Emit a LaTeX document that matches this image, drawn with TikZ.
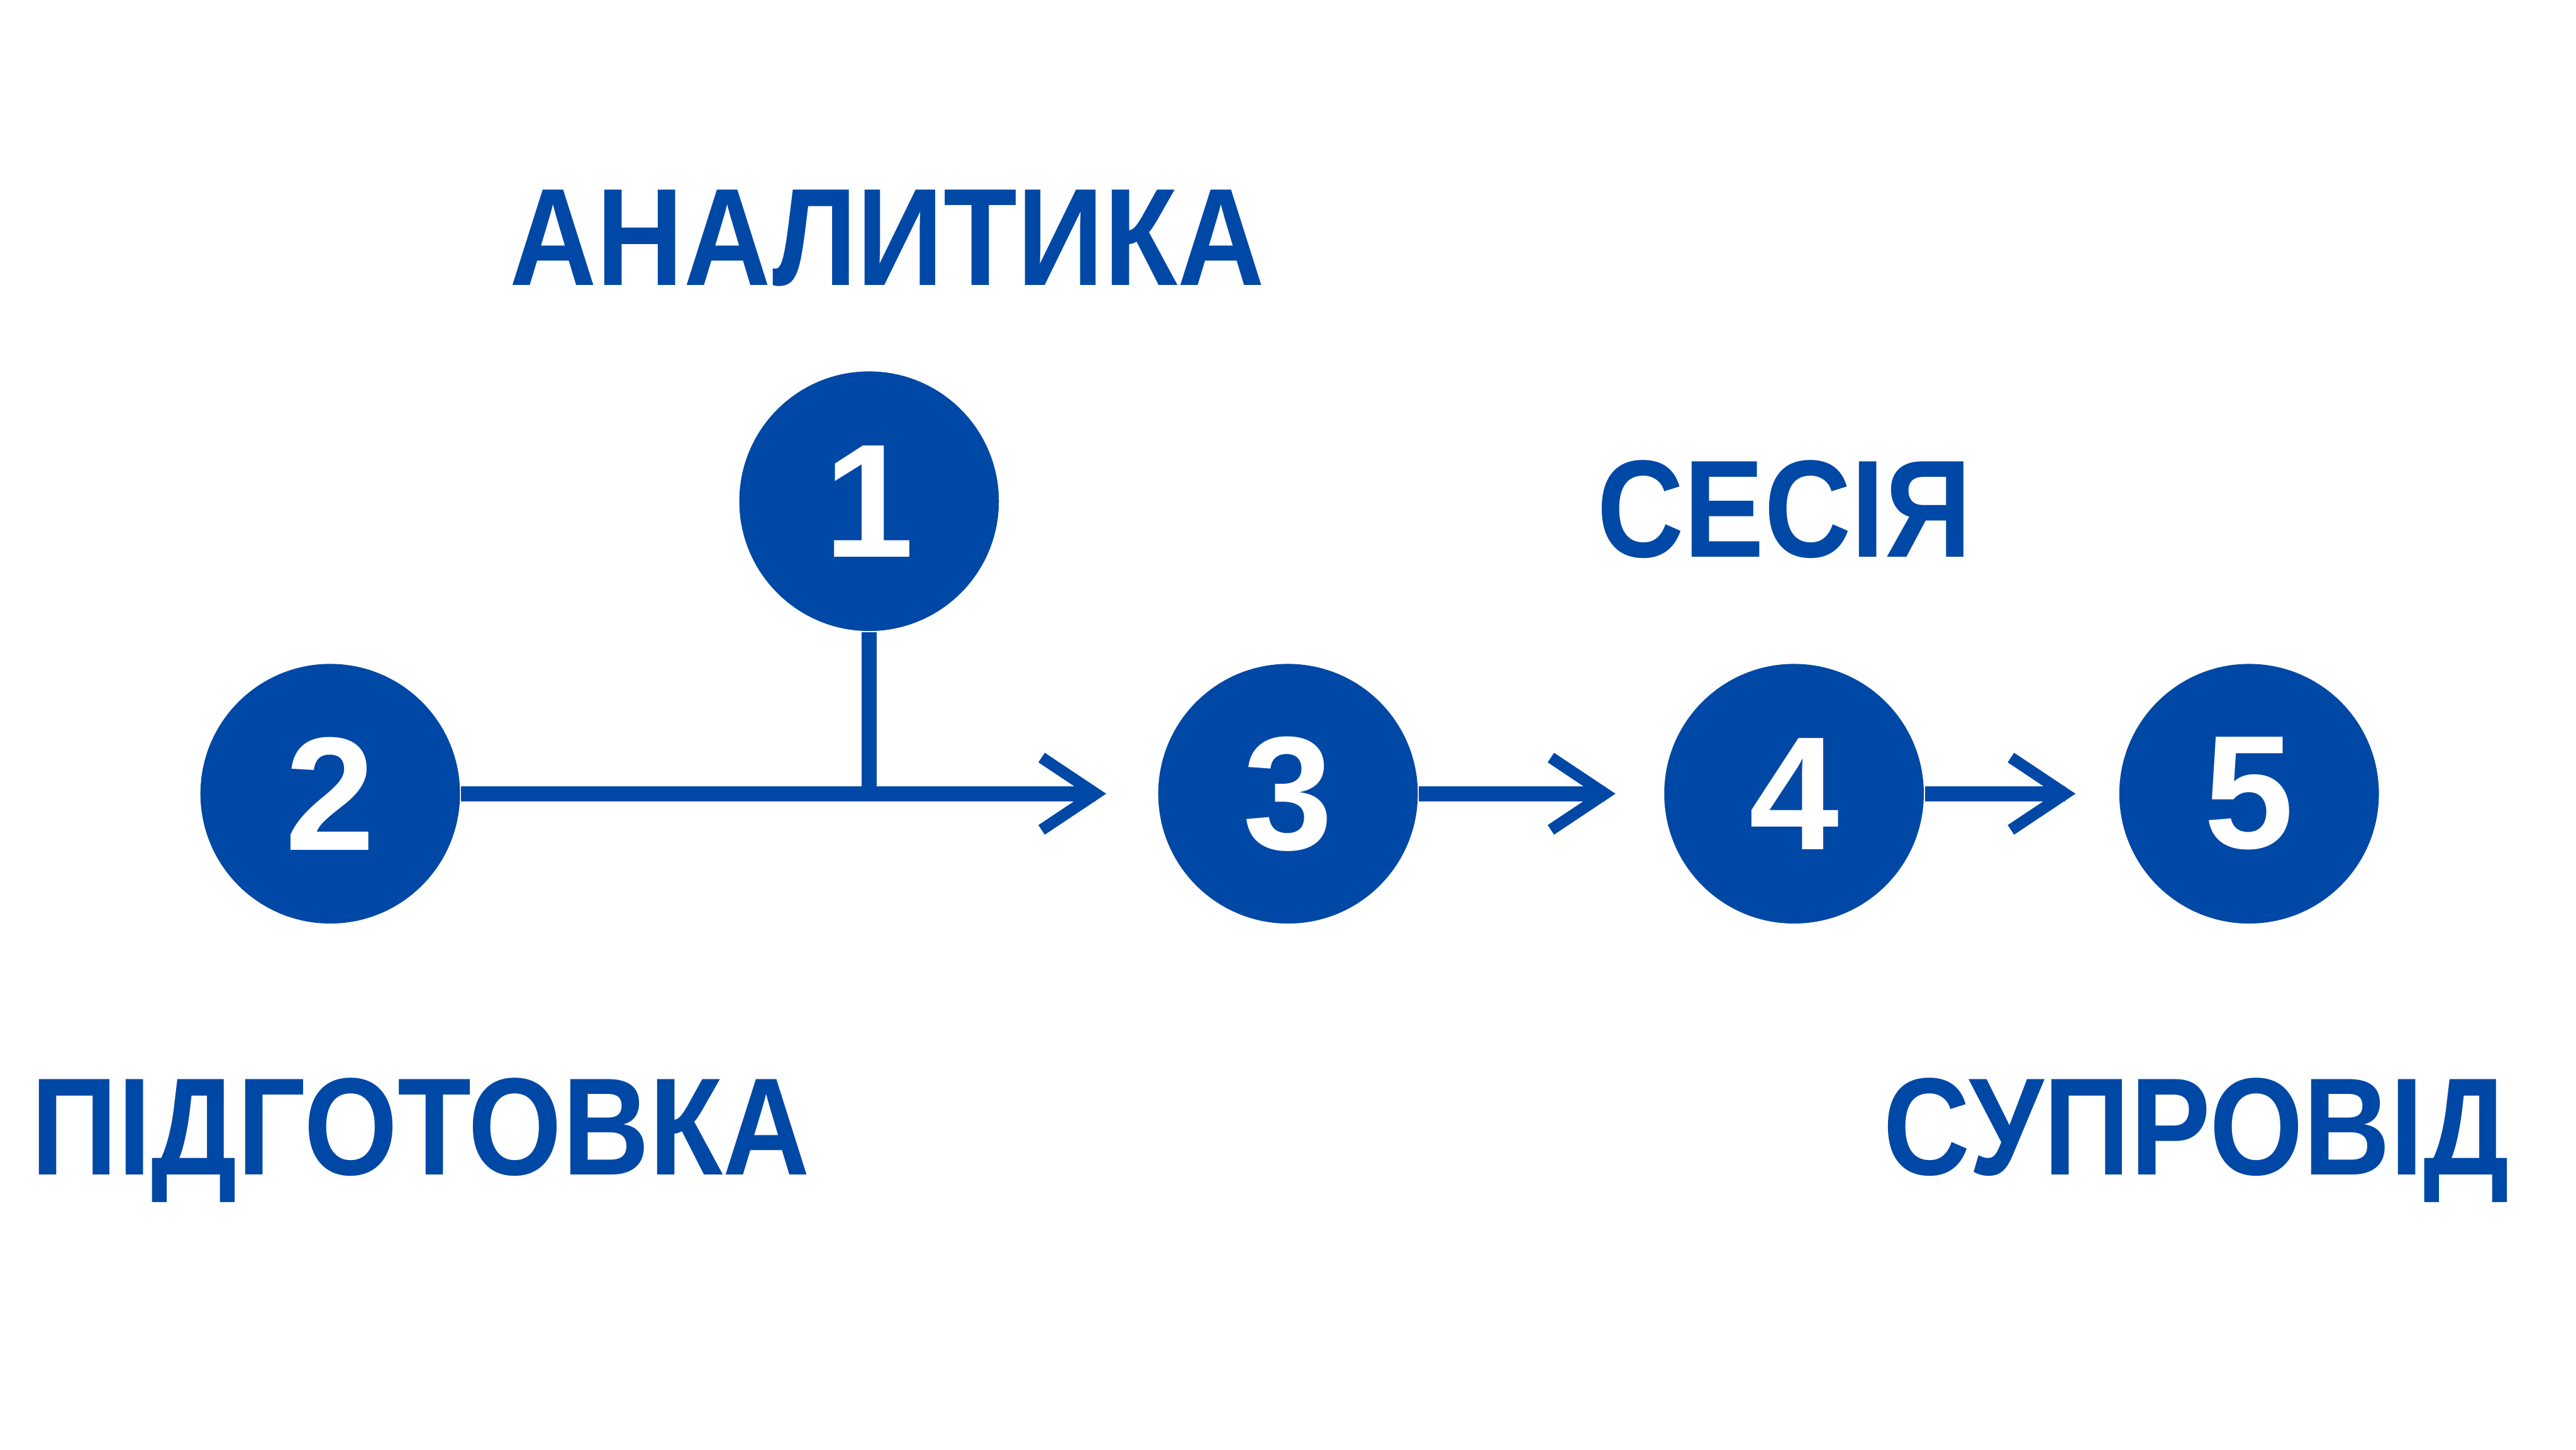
\documentclass[tikz,border=0pt]{standalone}
\usepackage{fontspec}
\setmainfont{Liberation Sans}
\begin{document}
\begin{tikzpicture}[x=1cm,y=1cm]
\definecolor{bl}{RGB}{0,72,165}
\tikzset{
 num/.style={circle,fill=bl,minimum size=1.58cm,inner sep=0pt,text=white,font=\bfseries\fontsize{28}{30}\selectfont},
 lab/.style={text=bl,font=\bfseries\fontsize{24}{26}\selectfont,inner sep=0pt,xscale=0.87,transform shape},
 ln/.style={bl,line width=0.09cm},
 chev/.style={bl,line width=0.07cm}
}
\useasboundingbox (0,0) rectangle (15.68,8.82);
\node[num] (n1) at (5.29,5.77) {1};
\node[num] (n2) at (2.01,3.99) {2};
\node[num] (n3) at (7.84,3.99) {3};
\node[num] (n4) at (10.92,3.99) {4};
\node[num] (n5) at (13.69,3.99) {5};
\coordinate (j) at (5.29,3.99);
\coordinate (t3) at (6.67,3.99);
\coordinate (t4) at (9.77,3.99);
\coordinate (t5) at (12.57,3.99);
\draw[ln] (n2.east) -- (t3);
\draw[ln] (n1.south) -- (j);
\draw[ln] (n3.east) -- (t4);
\draw[ln] (n4.east) -- (t5);
\foreach \t in {t3,t4,t5}{
 \draw[chev] ([shift={(-0.33,0.22)}]\t) -- (\t) -- ([shift={(-0.33,-0.22)}]\t);
}
\node[lab] (a) at (5.40,7.37) {АНАЛИТИКА};
\node[lab] (s) at (10.86,5.72) {СЕСІЯ};
\node[lab] (p) at (2.56,1.88) {ПІДГОТОВКА};
\node[lab] (c) at (13.37,1.88) {СУПРОВІД};
\end{tikzpicture}
\end{document}
